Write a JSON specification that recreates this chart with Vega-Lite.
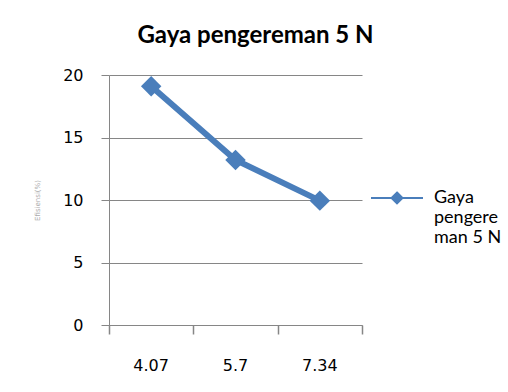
{
  "$schema": "https://vega.github.io/schema/vega-lite/v6.json",
  "autosize": "none",
  "width": 253,
  "height": 250,
  "padding": {"left": 109, "top": 75, "right": 146, "bottom": 67},
  "background": "white",
  "config": {"view": {"stroke": null}},
  "title": {
    "text": "Gaya pengereman 5 N",
    "font": "Lato",
    "fontSize": 24,
    "fontWeight": "bold",
    "color": "#000000",
    "anchor": "middle",
    "frame": "group",
    "baseline": "alphabetic",
    "dx": 20,
    "offset": 0
  },
  "data": {
    "values": [
      {"x": "4.07", "y": 19.1, "series": "Gaya pengereman 5 N"},
      {"x": "5.7", "y": 13.2, "series": "Gaya pengereman 5 N"},
      {"x": "7.34", "y": 9.95, "series": "Gaya pengereman 5 N"}
    ]
  },
  "encoding": {
    "x": {"field": "x", "type": "ordinal", "sort": null, "scale": {"type": "band", "paddingInner": 0, "paddingOuter": 0}},
    "y": {
      "field": "y",
      "type": "quantitative",
      "scale": {"domain": [0, 20]},
      "axis": {
        "title": "Efisiensi(%)",
        "titleFont": "DejaVu Sans",
        "titleFontSize": 7,
        "titleFontWeight": "normal",
        "titleColor": "#aaaaaa",
        "titlePadding": 22,
        "values": [0, 5, 10, 15, 20],
        "labelFont": "DejaVu Sans",
        "labelFontSize": 16,
        "labelColor": "#000000",
        "labelPadding": 18,
        "tickSize": 8,
        "tickColor": "#868686",
        "domainColor": "#868686",
        "gridColor": "#868686",
        "gridOpacity": 1
      }
    }
  },
  "layer": [
    {
      "mark": {"type": "line", "color": "#4a7ebb", "strokeWidth": 6},
      "encoding": {
        "x": {
          "field": "x", "type": "ordinal", "sort": null,
          "axis": {
            "orient": "bottom",
            "title": null,
            "labels": false,
            "grid": false,
            "ticks": true,
            "tickBand": "extent",
            "tickSize": 9,
            "tickWidth": 1.5,
            "tickColor": "#868686",
            "domainColor": "#868686"
          }
        }
      }
    },
    {
      "mark": {"type": "point", "shape": "diamond", "filled": true, "size": 420, "opacity": 1},
      "encoding": {
        "x": {
          "field": "x", "type": "ordinal", "sort": null,
          "axis": {
            "orient": "bottom",
            "title": null,
            "domain": false,
            "ticks": false,
            "tickSize": 0,
            "grid": false,
            "labelFont": "DejaVu Sans",
            "labelFontSize": 16,
            "labelColor": "#000000",
            "labelPadding": 32,
            "labelAngle": 0
          }
        },
        "color": {
          "field": "series",
          "type": "nominal",
          "scale": {"range": ["#4a7ebb"]},
          "legend": {
            "title": null,
            "orient": "none",
            "legendX": 261,
            "legendY": 96,
            "padding": 0,
            "symbolType": "M-1,0H1M0,-0.21L0.21,0L0,0.21L-0.21,0Z",
            "symbolSize": 2704,
            "symbolStrokeWidth": 2,
            "symbolFillColor": "#4a7ebb",
            "symbolStrokeColor": "#4a7ebb",
            "labelExpr": "['Gaya', 'pengere', 'man 5 N']",
            "labelFont": "Lato",
            "labelFontSize": 18,
            "labelColor": "#000000",
            "labelLimit": 200,
            "labelOffset": 10,
            "labelBaseline": "middle",
            "encode": {
              "symbols": {"update": {"fill": {"value": "#4a7ebb"}, "stroke": {"value": "#4a7ebb"}, "strokeWidth": {"value": 2}}},
              "labels": {"update": {"lineHeight": {"value": 26}}}
            }
          }
        }
      }
    }
  ],
  "resolve": {"axis": {"x": "independent"}}
}
